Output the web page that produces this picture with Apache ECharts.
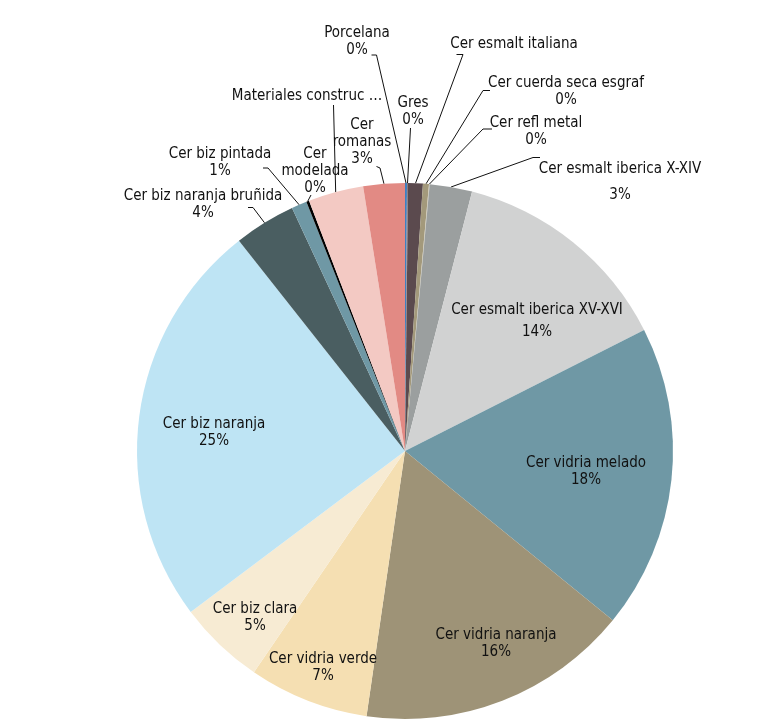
<!DOCTYPE html>
<html>
<head>
<meta charset="utf-8">
<script src="https://cdn.jsdelivr.net/npm/echarts@6/dist/echarts.min.js"></script>
<style>
  html, body { margin: 0; padding: 0; background: #fff; }
  #main { width: 762px; height: 720px; }
</style>
</head>
<body>
<div id="main"></div>
<script>
// share of each ceramic type (%), clockwise from 12 o'clock
const categories = [
  "Porcelana", "Gres", "Cer esmalt italiana", "Cer cuerda seca esgraf",
  "Cer refl metal", "Cer esmalt iberica X-XIV", "Cer esmalt iberica XV-XVI",
  "Cer vidria melado", "Cer vidria naranja", "Cer vidria verde", "Cer biz clara",
  "Cer biz naranja", "Cer biz naranja bruñida", "Cer biz pintada", "Cer modelada",
  "Materiales construcción", "Cer romanas",
];
const shares = [0.12, 0.06, 0.89, 0.36, 0.04, 2.56, 13.52, 18.35, 16.42, 7.24, 5.22, 24.63, 3.71, 0.93, 0.17, 3.33, 2.5];
const colors = [
  "#3f7fc0", "#8b7d80", "#5b4a4e", "#a3997b", "#c8c3b0", "#9b9f9f", "#d1d2d2",
  "#6f98a5", "#9e9377", "#f5dfb2", "#f7ebd3", "#bee4f4", "#4a5e61", "#6f98a5",
  "#000000", "#f3c9c3", "#e28a84",
];

// how some labels are written on the chart
const labelText = {
  "Cer romanas": "Cer\nromanas",
  "Cer modelada": "Cer\nmodelada",
  "Materiales construcción": "Materiales construc …",
};
const noPercent = ["Cer esmalt italiana", "Materiales construcción"];

// where each label sits, and the bend of its leader line (if any)
const spots = {
  "Porcelana": { at: [357, 42], bend: [[376.5, 55], [371.5, 55]] },
  "Gres": { at: [413, 112], bend: [[410.5, 128]] },
  "Cer esmalt italiana": { at: [514, 44], bend: [[463, 54.5], [456.5, 54.5]] },
  "Cer cuerda seca esgraf": { at: [566, 92], bend: [[483, 90.5], [490, 90.5]] },
  "Cer refl metal": { at: [536, 132], bend: [[483, 129], [492, 129]] },
  "Cer esmalt iberica X-XIV": { at: [620, 182], bend: [[533, 157.5], [540, 157.5]], lh: 26 },
  "Cer esmalt iberica XV-XVI": { at: [537, 321], lh: 22 },
  "Cer vidria melado": { at: [586, 472] },
  "Cer vidria naranja": { at: [496, 644] },
  "Cer vidria verde": { at: [323, 668] },
  "Cer biz clara": { at: [255, 618] },
  "Cer biz naranja": { at: [214, 433] },
  "Cer biz naranja bruñida": { at: [203, 205], bend: [[253, 207.5], [248, 207.5]] },
  "Cer biz pintada": { at: [220, 163], bend: [[268, 168], [263, 168]] },
  "Cer modelada": { at: [315, 171], bend: [[311, 195]] },
  "Materiales construcción": { at: [307, 96], bend: [[333.5, 105]] },
  "Cer romanas": { at: [362, 142], bend: [[380, 168], [376.5, 166.5]] },
};

const FONT = '"Liberation Sans Narrow", "DejaVu Sans Condensed", "Arial Narrow", sans-serif';

let pieData = categories.map((name, i) => {
  const s = spots[name];
  return {
    name: name,
    value: shares[i],
    itemStyle: { color: colors[i] },
    label: { lineHeight: s.lh || 17 },
    labelLine: { show: !!s.bend },
  };
});

let options = {
  animation: false,
  series: [
    {
      type: "pie",
      center: [405, 451],
      radius: 268,
      startAngle: 90,
      clockwise: true,
      avoidLabelOverlap: false,
      silent: true,
      itemStyle: { borderWidth: 0 },
      label: {
        show: true,
        position: "outside",
        color: "#111",
        fontFamily: FONT,
        fontSize: 15,
        align: "center",
        formatter: (p) => {
          let txt = labelText[p.name] || p.name;
          if (noPercent.indexOf(p.name) < 0) txt += "\n" + Math.round(p.percent) + "%";
          return txt;
        },
      },
      labelLine: {
        show: true,
        lineStyle: { color: "#111", width: 1 },
      },
      labelLayout: (params) => {
        const s = spots[categories[params.dataIndex]];
        let out = { x: s.at[0], y: s.at[1], align: "center", verticalAlign: "middle" };
        if (s.bend && params.labelLinePoints) {
          out.labelLinePoints = [params.labelLinePoints[0]].concat(s.bend);
        }
        return out;
      },
      data: pieData,
    },
  ],
};

let myChart = echarts.init(document.getElementById("main"));
myChart.setOption(options);
</script>
</body>
</html>
